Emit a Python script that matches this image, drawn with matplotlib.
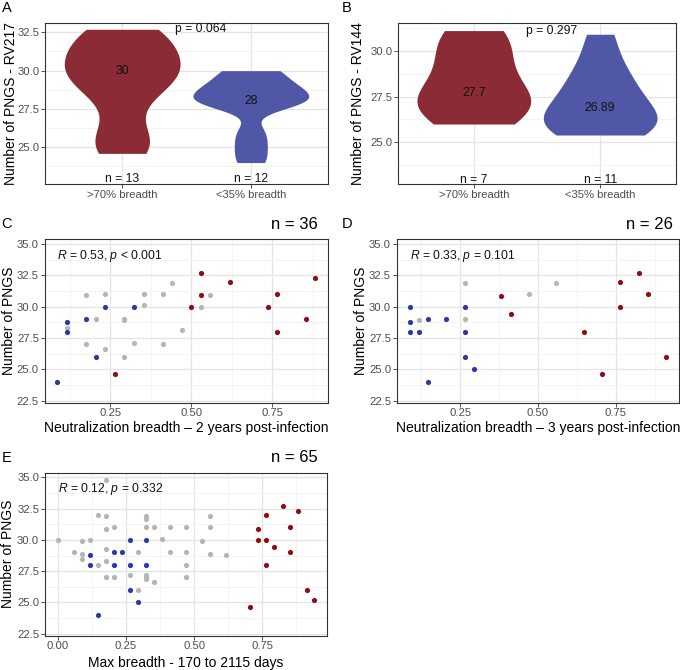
import numpy as np
import matplotlib
matplotlib.use("Agg")
import matplotlib.pyplot as plt
from matplotlib.ticker import MultipleLocator, FormatStrFormatter

plt.rcParams['font.family'] = ['Liberation Sans', 'DejaVu Sans']
plt.rcParams['mathtext.fontset'] = 'custom'
plt.rcParams['mathtext.rm'] = 'Liberation Sans'
plt.rcParams['mathtext.it'] = 'Liberation Sans:italic'

W, H = 680, 670

# ---- data ----
groups = ['>70% breadth', '<35% breadth']

# RV217 groups (same people as the coloured dots in panel E)
rv217_high = [24.6, 30.9, 30.0, 32.0, 30.0, 28.0, 29.4, 32.7, 31.0, 29.0, 32.3, 26.0, 25.2]
rv217_low = [28.8, 28.0, 24.0, 29.0, 28.0, 29.0, 30.0, 28.0, 26.0, 25.0, 30.0, 28.0]
rv217_median_txt = ['30', '28']
rv217_p = 'p = 0.064'

# RV144 groups
rv144_high = [26.0, 26.8, 27.3, 27.7, 29.0, 30.2, 31.1]
rv144_low = [25.4, 25.6, 25.9, 26.1, 26.5, 26.89, 27.4, 28.0, 28.6, 29.5, 30.9]
rv144_median_txt = ['27.7', '26.89']
rv144_p = 'p = 0.297'

# C: breadth 2 years post-infection
c_gray_x = [0.118, 0.176, 0.176, 0.206, 0.235, 0.235, 0.294, 0.294, 0.294, 0.324,
            0.353, 0.353, 0.412, 0.412, 0.441, 0.471, 0.529, 0.559]
c_gray_y = [28.3, 30.9, 27.0, 29.0, 31.0, 26.6, 29.0, 28.9, 26.0, 27.1,
            31.0, 30.1, 31.0, 27.0, 31.9, 28.1, 30.0, 30.9]
c_blue_x = [0.088, 0.118, 0.118, 0.176, 0.206, 0.235, 0.324]
c_blue_y = [24.0, 28.8, 28.0, 29.0, 26.0, 30.0, 30.0]
c_red_x = [0.265, 0.500, 0.529, 0.529, 0.618, 0.735, 0.765, 0.765, 0.853, 0.882]
c_red_y = [24.6, 30.0, 32.7, 30.9, 32.0, 30.0, 31.0, 28.0, 29.0, 32.3]

# D: breadth 3 years post-infection
d_gray_x = [0.118, 0.265, 0.265, 0.471, 0.559]
d_gray_y = [28.9, 31.9, 29.0, 31.0, 31.9]
d_blue_x = [0.088, 0.088, 0.088, 0.118, 0.147, 0.147, 0.206, 0.265, 0.265, 0.265, 0.294]
d_blue_y = [30.0, 28.8, 28.0, 28.0, 29.0, 24.0, 29.0, 30.0, 28.0, 26.0, 25.0]
d_red_x = [0.382, 0.412, 0.647, 0.706, 0.765, 0.765, 0.824, 0.853, 0.912]
d_red_y = [30.85, 29.4, 28.0, 24.6, 32.0, 30.0, 32.7, 31.0, 26.0]

# E: max breadth
e_gray_x = [0.000, 0.059, 0.088, 0.088, 0.088, 0.118, 0.147, 0.147, 0.176, 0.176,
            0.176, 0.176, 0.176, 0.176, 0.206, 0.206, 0.265, 0.294, 0.294, 0.324,
            0.324, 0.324, 0.324, 0.324, 0.324, 0.353, 0.353, 0.382, 0.412, 0.412,
            0.471, 0.471, 0.471, 0.471, 0.529, 0.559, 0.559, 0.559, 0.618]
e_gray_y = [30.0, 29.0, 29.9, 28.9, 28.5, 30.0, 32.0, 28.0, 34.8, 31.9,
            30.9, 29.3, 28.3, 27.0, 31.0, 27.0, 27.2, 29.0, 26.0, 31.9,
            31.7, 31.0, 27.2, 27.0, 26.9, 31.0, 26.6, 30.1, 31.0, 29.0,
            31.0, 29.0, 28.0, 27.0, 29.95, 31.9, 31.0, 28.9, 28.8]
e_blue_x = [0.118, 0.118, 0.147, 0.206, 0.206, 0.235, 0.265, 0.265, 0.265, 0.294, 0.324, 0.324]
e_blue_y = rv217_low
e_red_x = [0.706, 0.735, 0.735, 0.765, 0.765, 0.765, 0.794, 0.824, 0.853, 0.853, 0.882, 0.912, 0.941]
e_red_y = rv217_high

cor_txt = [r'$\it{R}$ = 0.53, $\it{p}$ < 0.001',
           r'$\it{R}$ = 0.33, $\it{p}$ = 0.101',
           r'$\it{R}$ = 0.12, $\it{p}$ = 0.332']
n_txt = ['n = 36', 'n = 26', 'n = 65']

# ---- style ----
VIO_COLS = ['#8B2B35', '#4F57A6']
RED, BLUE, GRAY = '#8B0F14', '#2C3A9F', '#B5B5B5'
TICK_COL = '#4D4D4D'

fig = plt.figure(figsize=(W / 100, H / 100), dpi=100)


def add_ax(x0, y0, x1, y1):
    return fig.add_axes([x0 / W, 1 - y1 / H, (x1 - x0) / W, (y1 - y0) / H])


def ftext(x, y, s, **kw):
    fig.text(x / W, 1 - y / H, s, **kw)


def style(ax):
    for sp in ax.spines.values():
        sp.set_color('#333333')
        sp.set_linewidth(0.8)
    ax.grid(True, which='major', color='#E4E4E4', lw=0.9)
    ax.grid(True, which='minor', color='#F3F3F3', lw=0.6)
    ax.set_axisbelow(True)
    ax.tick_params(which='major', length=2.6, width=0.6, color='#333333',
                   labelsize=8.1, labelcolor=TICK_COL, pad=1.5)
    ax.tick_params(which='minor', length=0)


def nrd0_density(v):
    v = np.asarray(v, float)
    q1, q3 = np.percentile(v, [25, 75])
    bw = 0.9 * min(v.std(ddof=1), (q3 - q1) / 1.34) * len(v) ** -0.2
    yy = np.linspace(v.min(), v.max(), 512)
    d = np.exp(-0.5 * ((yy[:, None] - v[None, :]) / bw) ** 2).sum(axis=1)
    return yy, d / d.max()


def violin_panel(ax, series, med_txt, p_txt, ylim, yticks):
    for i, (vals, col) in enumerate(zip(series, VIO_COLS)):
        pos = i + 1
        yy, d = nrd0_density(vals)
        ax.fill_betweenx(yy, pos - 0.45 * d, pos + 0.45 * d, color=col, lw=0, zorder=2)
        ax.text(pos, np.median(vals), med_txt[i], ha='center', va='center',
                fontsize=8.7, color='#111111', zorder=3)
        ax.text(pos, 22.95, 'n = %d' % len(vals), ha='center', va='center',
                fontsize=8.7, color='#111111')
    top = max(max(s) for s in series)
    ax.text(1.41, top, p_txt, ha='left', va='center', fontsize=8.7, color='#111111')
    ax.set_xlim(0.4, 2.6)
    ax.set_ylim(*ylim)
    ax.set_xticks([1, 2])
    ax.set_xticklabels(groups)
    ax.set_yticks(yticks)
    ax.yaxis.set_minor_locator(MultipleLocator(1.25))
    ax.yaxis.set_major_formatter(FormatStrFormatter('%.1f'))
    style(ax)
    ax.grid(False, which='minor', axis='x')


def scatter_panel(ax, gx, gy, bx, by, rx, ry, ctxt, xticks):
    ax.scatter(gx, gy, s=14, color=GRAY, lw=0, zorder=2)
    ax.scatter(bx, by, s=14, color=BLUE, lw=0, zorder=3)
    ax.scatter(rx, ry, s=14, color=RED, lw=0, zorder=3)
    allx = gx + bx + rx
    lo, hi = min(allx), max(allx)
    pad = 0.05 * (hi - lo)
    ax.set_xlim(lo - pad, hi + pad)
    ax.set_ylim(22.33, 35.38)
    ax.text(lo, 34.05, ctxt, ha='left', va='center', fontsize=8.7, color='#111111')
    ax.set_xticks(xticks)
    ax.xaxis.set_minor_locator(MultipleLocator(0.125))
    ax.xaxis.set_major_formatter(FormatStrFormatter('%.2f'))
    ax.set_yticks([22.5, 25.0, 27.5, 30.0, 32.5, 35.0])
    ax.yaxis.set_minor_locator(MultipleLocator(1.25))
    ax.yaxis.set_major_formatter(FormatStrFormatter('%.1f'))
    style(ax)


# A
axA = add_ax(45, 23, 328, 184)
violin_panel(axA, [rv217_high, rv217_low], rv217_median_txt, rv217_p,
             (22.6, 33.11), [25.0, 27.5, 30.0, 32.5])
# B
axB = add_ax(398, 22.7, 676, 184.3)
violin_panel(axB, [rv144_high, rv144_low], rv144_median_txt, rv144_p,
             (22.71, 31.53), [25.0, 27.5, 30.0])
# C
axC = add_ax(44.6, 239.3, 328.2, 402.7)
scatter_panel(axC, c_gray_x, c_gray_y, c_blue_x, c_blue_y, c_red_x, c_red_y,
              cor_txt[0], [0.25, 0.50, 0.75])
# D
axD = add_ax(396.8, 239.3, 679, 402.7)
scatter_panel(axD, d_gray_x, d_gray_y, d_blue_x, d_blue_y, d_red_x, d_red_y,
              cor_txt[1], [0.25, 0.50, 0.75])
# E
axE = add_ax(44.9, 472.7, 327.3, 635.7)
scatter_panel(axE, e_gray_x, e_gray_y, e_blue_x, e_blue_y, e_red_x, e_red_y,
              cor_txt[2], [0.0, 0.25, 0.50, 0.75])

# axis titles
lab = dict(fontsize=10, color='black')
ftext(11.5, 103.5, 'Number of PNGS - RV217', rotation=90, ha='center', va='center', **lab)
ftext(358.3, 103.5, 'Number of PNGS - RV144', rotation=90, ha='center', va='center', **lab)
ftext(9.3, 321, 'Number of PNGS', rotation=90, ha='center', va='center', **lab)
ftext(360.7, 321, 'Number of PNGS', rotation=90, ha='center', va='center', **lab)
ftext(8, 554, 'Number of PNGS', rotation=90, ha='center', va='center', **lab)
ftext(186.4, 432, 'Neutralization breadth \u2013 2 years post-infection', ha='center', va='baseline', **lab)
ftext(537.9, 432, 'Neutralization breadth \u2013 3 years post-infection', ha='center', va='baseline', **lab)
ftext(186.1, 666.5, 'Max breadth - 170 to 2115 days', ha='center', va='baseline', **lab)

# panel letters and n titles
for s, x, y in [('A', 1.5, 11.7), ('B', 341.5, 11.5), ('C', 1.5, 228.3),
                ('D', 341.5, 228.3), ('E', 1.5, 461.7)]:
    ftext(x, y, s, ha='left', va='baseline', fontsize=10.5, color='black')
for s, x, y in [(n_txt[0], 318, 229.3), (n_txt[1], 673.3, 229.3), (n_txt[2], 317.3, 461.7)]:
    ftext(x, y, s, ha='right', va='baseline', fontsize=12, color='black')

fig.savefig('out.png', dpi=100)
